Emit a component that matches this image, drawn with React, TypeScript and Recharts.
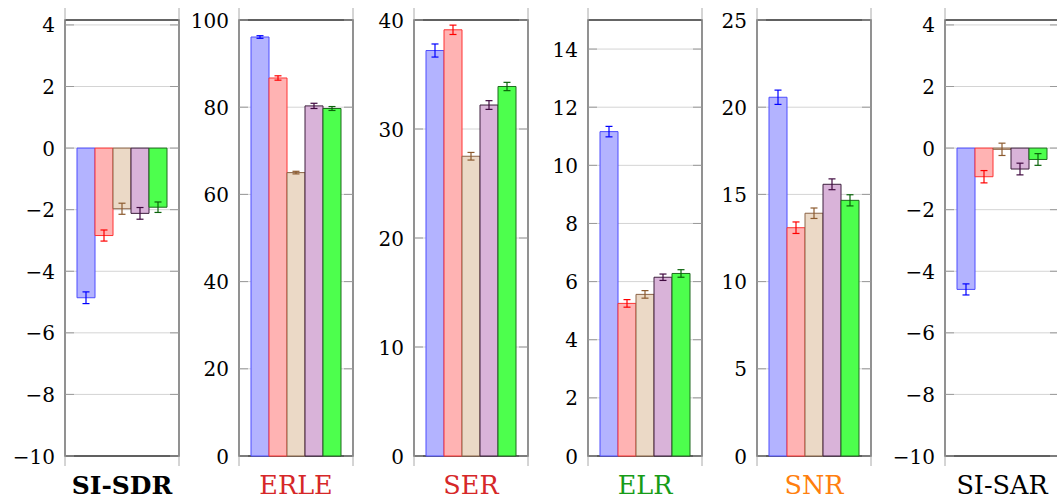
import React from "react";
import {
  BarChart,
  Bar,
  XAxis,
  YAxis,
  CartesianGrid,
  ErrorBar,
  ReferenceArea,
} from "recharts";

const metrics = ["SI-SDR", "ERLE", "SER", "ELR", "SNR", "SI-SAR"];
const metricColors = ["#000000", "#d62728", "#d62728", "#179c17", "#ff7f0e", "#000000"];

const siSdr = [-4.86, -2.84, -1.97, -2.12, -1.92];
const siSdrErr = [0.19, 0.18, 0.18, 0.19, 0.17];
const erle = [96.1, 86.7, 65.0, 80.3, 79.7];
const erleErr = [0.3, 0.5, 0.3, 0.6, 0.45];
const ser = [37.2, 39.1, 27.5, 32.2, 33.9];
const serErr = [0.6, 0.43, 0.35, 0.4, 0.38];
const elr = [11.16, 5.25, 5.56, 6.15, 6.28];
const elrErr = [0.18, 0.13, 0.13, 0.11, 0.13];
const snr = [20.57, 13.09, 13.92, 15.58, 14.66];
const snrErr = [0.41, 0.33, 0.3, 0.31, 0.32];
const siSar = [-4.59, -0.93, -0.04, -0.68, -0.37];
const siSarErr = [0.18, 0.2, 0.2, 0.19, 0.19];

const values = [siSdr, erle, ser, elr, snr, siSar];
const errors = [siSdrErr, erleErr, serErr, elrErr, snrErr, siSarErr];

const yTicks = [
  [-10, -8, -6, -4, -2, 0, 2, 4],
  [0, 20, 40, 60, 80, 100],
  [0, 10, 20, 30, 40],
  [0, 2, 4, 6, 8, 10, 12, 14],
  [0, 5, 10, 15, 20, 25],
  [-10, -8, -6, -4, -2, 0, 2, 4],
];
const yRanges = [
  [-10, 4.16],
  [0, 100],
  [0, 40],
  [0, 15],
  [0, 25],
  [-10, 4.16],
];

// bar styles (blue, red, brown, violet, green)
const fills = ["#b3b3ff", "#ffb3b3", "#ebd9c6", "#d9b3d9", "#4dff4d"];
const strokes = ["#4d4dff", "#ff3333", "#8c6446", "#3d1f3d", "#1f6b1f"];
const errColors = ["#0000ff", "#ff0000", "#8c5a2e", "#400a40", "#0a640a"];

const plotLefts = [65, 239, 414, 588, 757, 945];
const AXIS_W = 65;
const PLOT_W = 114;
const CHART_H = 500;
const EXT_TOP = 8;
const EXT_BOTTOM = 466;
const BOX_TOP = 20;
const BOX_BOTTOM = 456;
const TICK_LEN = 9;
const FONT = "DejaVu Serif";

function fmt(v: number) {
  return v < 0 ? `\u2212${Math.abs(v)}` : String(v);
}

function YTick(props: any) {
  const { y, payload } = props;
  return (
    <g>
      <line x1={AXIS_W} x2={AXIS_W + TICK_LEN} y1={y} y2={y} stroke="#9a9a9a" />
      <line
        x1={AXIS_W + PLOT_W - TICK_LEN}
        x2={AXIS_W + PLOT_W}
        y1={y}
        y2={y}
        stroke="#9a9a9a"
      />
      <text
        x={AXIS_W - 10}
        y={y}
        dy={7.5}
        textAnchor="end"
        style={{ fontFamily: FONT, fontSize: 20 }}
        fill="#000"
      >
        {fmt(payload.value)}
      </text>
    </g>
  );
}

function makeXTick(index: number) {
  return (props: any) => {
    const { x, payload } = props;
    return (
      <text
        x={x}
        y={494}
        textAnchor="middle"
        style={{
          fontFamily: FONT,
          fontSize: index === 0 ? 25 : 25.5,
          fontWeight: index === 0 ? "bold" : "normal",
        }}
        fill={metricColors[index]}
      >
        {payload.value}
      </text>
    );
  };
}

function Panel({ index }: { index: number }) {
  const [lo, hi] = yRanges[index];
  const ppu = (BOX_BOTTOM - BOX_TOP) / (hi - lo);
  const domain = [lo - (EXT_BOTTOM - BOX_BOTTOM) / ppu, hi + (BOX_TOP - EXT_TOP) / ppu];
  const row: Record<string, any> = { metric: metrics[index] };
  values[index].forEach((v, i) => {
    row[`v${i}`] = v;
    row[`e${i}`] = errors[index][i];
  });

  // grid only at the tick values, mapped through the axis domain
  const gridAt = ({ offset }: any) =>
    yTicks[index].map(
      (t) => offset.top + ((domain[1] - t) / (domain[1] - domain[0])) * offset.height
    );

  return (
    <div style={{ position: "absolute", left: plotLefts[index] - AXIS_W, top: 0 }}>
      <BarChart
        width={AXIS_W + PLOT_W + 1}
        height={CHART_H}
        data={[row]}
        margin={{ top: EXT_TOP, right: 0, bottom: 0, left: 0 }}
        barGap={0}
        barCategoryGap={12}
      >
        <CartesianGrid
          vertical={false}
          stroke="#d4d4d4"
          horizontalCoordinatesGenerator={gridAt}
        />
        <XAxis
          dataKey="metric"
          axisLine={false}
          tickLine={false}
          height={CHART_H - EXT_BOTTOM}
          tick={makeXTick(index)}
        />
        <YAxis
          type="number"
          domain={domain}
          allowDataOverflow
          ticks={yTicks[index]}
          interval={0}
          width={AXIS_W}
          axisLine={{ stroke: "#aaaaaa" }}
          tickLine={false}
          tick={<YTick />}
        />
        <YAxis
          yAxisId="r"
          orientation="right"
          type="number"
          domain={domain}
          allowDataOverflow
          width={1}
          axisLine={{ stroke: "#aaaaaa" }}
          tickLine={false}
          tick={false}
        />
        {values[index].map((_, i) => (
          <Bar
            key={i}
            dataKey={`v${i}`}
            fill={fills[i]}
            stroke={strokes[i]}
            strokeWidth={1}
            isAnimationActive={false}
          >
            <ErrorBar
              dataKey={`e${i}`}
              width={3.5}
              stroke={errColors[i]}
              strokeWidth={1.2}
              isAnimationActive={false}
            />
          </Bar>
        ))}
        <ReferenceArea y1={lo} y2={hi} fill="none" stroke="#333333" strokeWidth={1.3} />
      </BarChart>
    </div>
  );
}

export default function App() {
  return (
    <div
      style={{
        position: "absolute",
        left: 0,
        top: 0,
        width: 1057,
        height: 500,
        overflow: "hidden",
        background: "#ffffff",
        fontFamily: FONT,
      }}
    >
      {metrics.map((_, i) => (
        <Panel key={i} index={i} />
      ))}
    </div>
  );
}
